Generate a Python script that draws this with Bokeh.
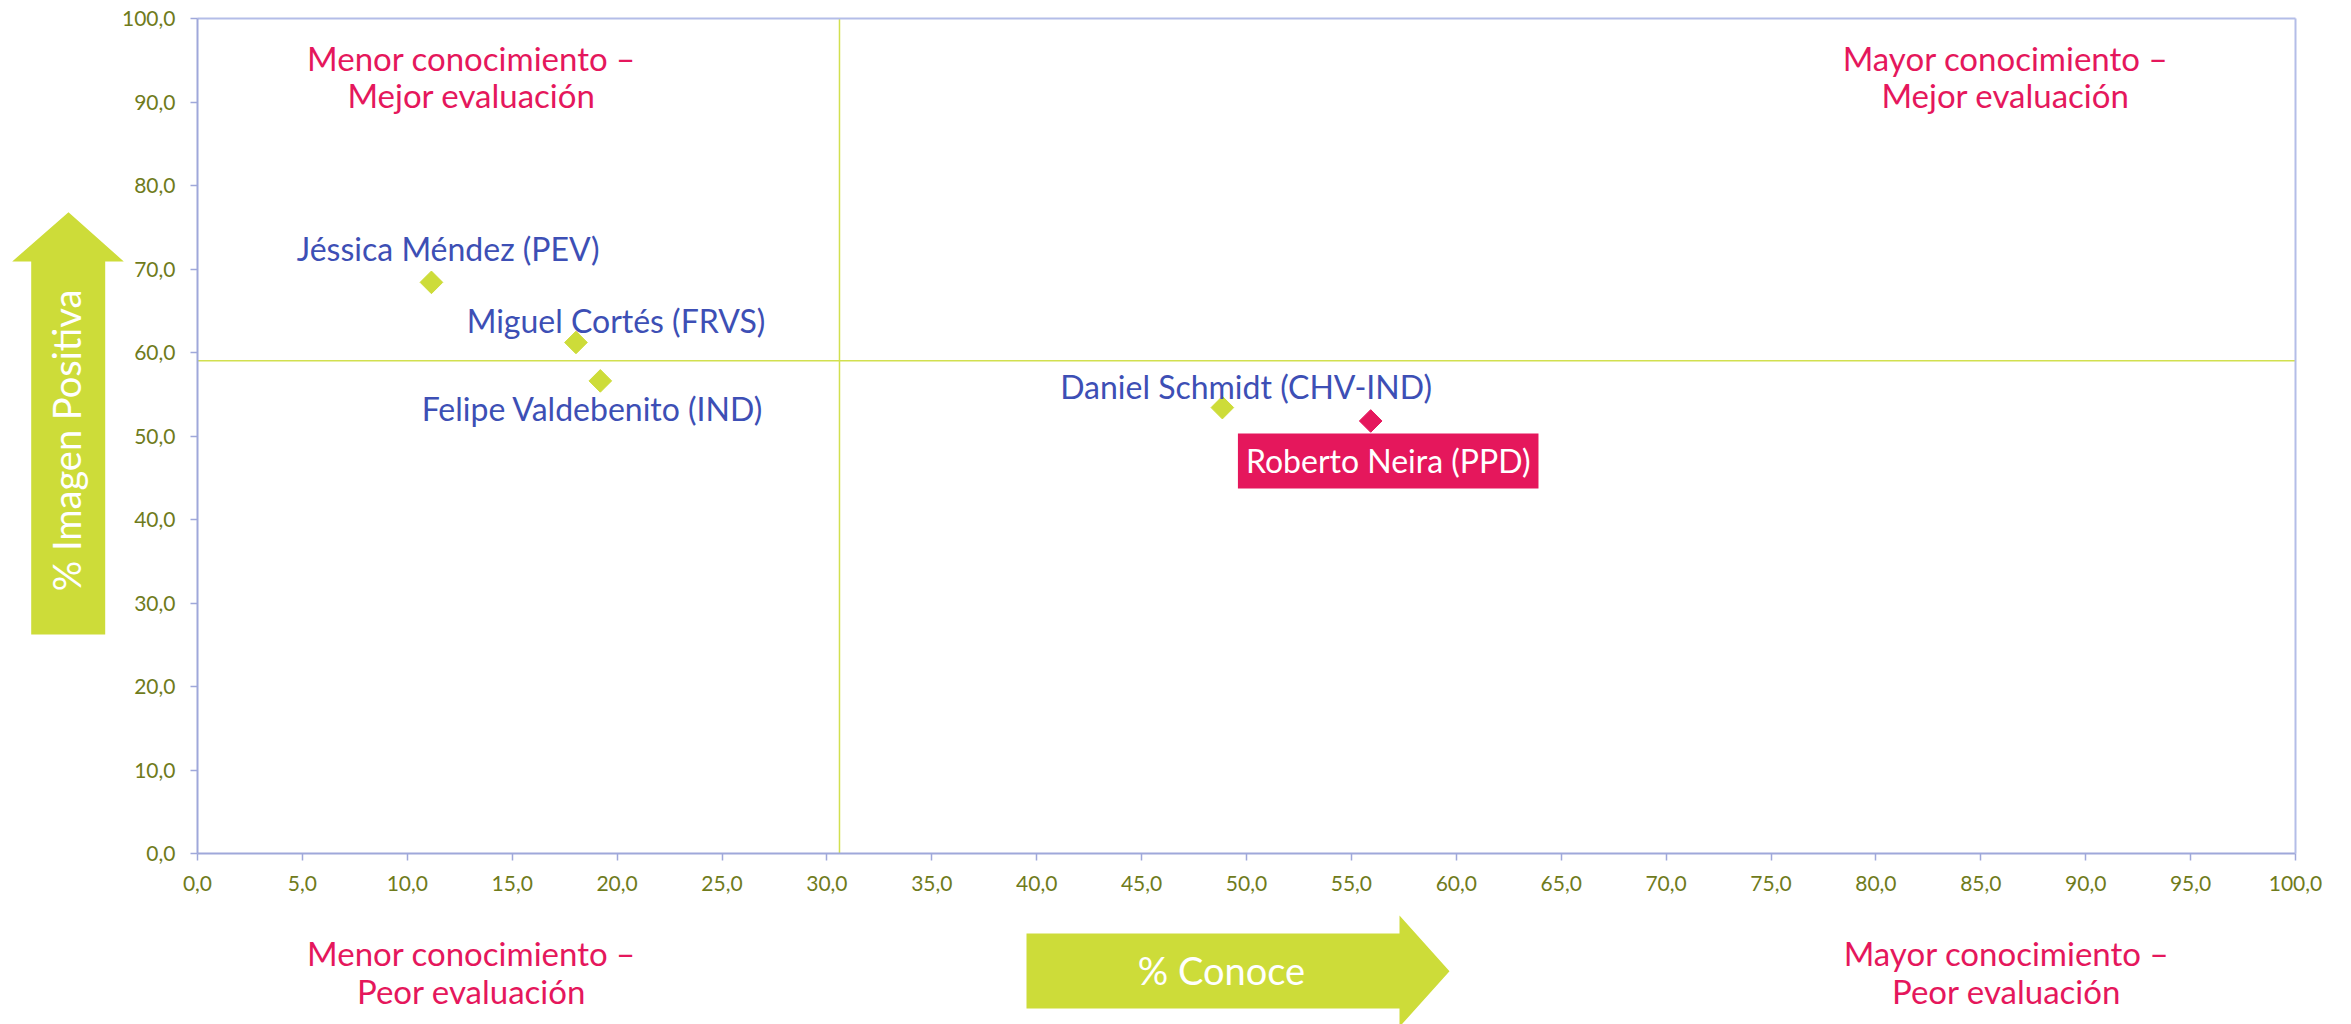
import numpy as np
from bokeh.plotting import figure
from bokeh.models import Range1d, FixedTicker, Label, PolyAnnotation, ColumnDataSource, LinearAxis
from bokeh.core.properties import value
from bokeh.embed import file_html
from bokeh.resources import INLINE

# ---------------- data ----------------
candidates = ["Jéssica Méndez (PEV)", "Miguel Cortés (FRVS)", "Felipe Valdebenito (IND)",
              "Daniel Schmidt (CHV-IND)", "Roberto Neira (PPD)"]
pct_conoce = [11.15, 18.04, 19.20, 48.85, 55.92]
pct_imagen_positiva = [68.4, 61.2, 56.6, 53.4, 51.8]
highlighted = "Roberto Neira (PPD)"

ref_conoce = 30.6
ref_imagen = 59.0

x_ticks = [0, 5, 10, 15, 20, 25, 30, 35, 40, 45, 50, 55, 60, 65, 70, 75, 80, 85, 90, 95, 100]
x_tick_labels = ["0,0", "5,0", "10,0", "15,0", "20,0", "25,0", "30,0", "35,0", "40,0", "45,0", "50,0",
                 "55,0", "60,0", "65,0", "70,0", "75,0", "80,0", "85,0", "90,0", "95,0", "100,0"]
y_ticks = [0, 10, 20, 30, 40, 50, 60, 70, 80, 90, 100]
y_tick_labels = ["0,0", "10,0", "20,0", "30,0", "40,0", "50,0", "60,0", "70,0", "80,0", "90,0", "100,0"]
axis_min, axis_max = 0, 100

x_title = "% Conoce"
y_title = "% Imagen Positiva"
quadrant_top_left = ["Menor conocimiento –", "Mejor evaluación"]
quadrant_top_right = ["Mayor conocimiento –", "Mejor evaluación"]
quadrant_bottom_left = ["Menor conocimiento –", "Peor evaluación"]
quadrant_bottom_right = ["Mayor conocimiento –", "Peor evaluación"]

# ---------------- layout / style ----------------
W, H = 2351, 1024
LIME = "#cddc39"
LIME_LINE = "#d2e04f"
PINK = "#e5175c"
BLUE = "#3d4fb5"
OLIVE = "#6f7b1c"
AXIS = "#9fa8da"
BORDER = "#b4bde8"
FONT = "Lato"

# canvas-pixel positions of the plotting box corners (axis 0 and 100)
FX0, FX1 = 197.0, 2295.0
FY0, FY1 = 853.0, 18.0


def dx(px):
    return axis_min + (px - FX0) / (FX1 - FX0) * (axis_max - axis_min)


def dy(py):
    return axis_min + (FY0 - py) / (FY0 - FY1) * (axis_max - axis_min)


p = figure(width=W, height=H, x_range=Range1d(dx(0), dx(W)), y_range=Range1d(dy(H), dy(0)),
           output_backend="svg", toolbar_location=None, x_axis_location=None, y_axis_location=None,
           min_border=0)
p.outline_line_color = None
p.background_fill_color = "white"
p.border_fill_color = "white"
p.xgrid.visible = False
p.ygrid.visible = False


def style_axis(ax, color, labels=True):
    ax.axis_line_color = color
    ax.axis_line_width = 2
    ax.major_tick_line_color = color
    ax.major_tick_line_width = 1.5
    ax.major_tick_in = 0
    ax.major_tick_out = 7 if labels else 0
    ax.minor_tick_line_color = None
    ax.major_label_text_font = FONT
    ax.major_label_text_font_size = "21px" if labels else "0px"
    ax.major_label_text_color = OLIVE


xaxis = LinearAxis(fixed_location=axis_min, bounds=(axis_min, axis_max), ticker=FixedTicker(ticks=x_ticks),
                   major_label_overrides={float(t): l for t, l in zip(x_ticks, x_tick_labels)})
yaxis = LinearAxis(fixed_location=axis_min, bounds=(axis_min, axis_max), ticker=FixedTicker(ticks=y_ticks),
                   major_label_overrides={float(t): l for t, l in zip(y_ticks, y_tick_labels)})
top_border = LinearAxis(fixed_location=axis_max, bounds=(axis_min, axis_max), ticker=FixedTicker(ticks=[]))
right_border = LinearAxis(fixed_location=axis_max, bounds=(axis_min, axis_max), ticker=FixedTicker(ticks=[]))
style_axis(xaxis, AXIS)
style_axis(yaxis, AXIS)
style_axis(top_border, BORDER, labels=False)
style_axis(right_border, BORDER, labels=False)
xaxis.major_label_standoff = 15
yaxis.major_label_standoff = 15
p.add_layout(top_border, "above")
p.add_layout(right_border, "right")

# reference lines (quadrant dividers)
p.segment(x0=[ref_conoce, axis_min], y0=[axis_min, ref_imagen], x1=[ref_conoce, axis_max], y1=[axis_max, ref_imagen],
          line_color=LIME_LINE, line_width=1.5)

p.add_layout(xaxis, "below")
p.add_layout(yaxis, "left")

# arrows (decoration, canvas pixels)
v_arrow_px = [(30.7, 634), (104.7, 634), (104.7, 261), (123.3, 261), (68.0, 211.7), (11.7, 261), (30.7, 261)]
h_arrow_px = [(1026, 933), (1399, 933), (1399, 915), (1449, 970.7), (1399, 1026.4), (1399, 1008), (1026, 1008)]
for pts in (v_arrow_px, h_arrow_px):
    p.add_layout(PolyAnnotation(xs=[dx(a) for a, b in pts], ys=[dy(b) for a, b in pts],
                                fill_color=LIME, fill_alpha=1.0, line_color=None))

p.add_layout(Label(x=dx(65), y=dy(440), text=y_title, angle=np.pi / 2, text_align="center",
                   text_baseline="alphabetic", text_font=FONT, text_font_size="38px", text_color="white"))
p.add_layout(Label(x=dx(1221), y=dy(969), text=x_title, text_align="center",
                   text_baseline="alphabetic", text_font=FONT, text_font_size="38px", text_color="white"))

# quadrant labels
for lines, cx, baselines in ((quadrant_top_left, 471, (57.3, 94.7)),
                             (quadrant_top_right, 2005, (57.3, 94.7)),
                             (quadrant_bottom_left, 471, (952.5, 990.5)),
                             (quadrant_bottom_right, 2006, (952.5, 990.5))):
    for txt, by in zip(lines, baselines):
        p.add_layout(Label(x=dx(cx), y=dy(by), text=txt, text_align="center", text_baseline="alphabetic",
                           text_font=FONT, text_font_size="33px", text_color=PINK))

# points
colors = [PINK if c == highlighted else LIME for c in candidates]
src = ColumnDataSource(dict(x=pct_conoce, y=pct_imagen_positiva, name=candidates, color=colors))
p.scatter("x", "y", source=src, marker="square", angle=np.pi / 4, size=16,
          fill_color="color", line_color="color")

# label offsets in screen pixels (layout)
label_offsets = {
    "Jéssica Méndez (PEV)": (16.7, -34.3),
    "Miguel Cortés (FRVS)": (40.0, -22.3),
    "Felipe Valdebenito (IND)": (-7.8, 27.2),
    "Daniel Schmidt (CHV-IND)": (23.7, -21.0),
    "Roberto Neira (PPD)": (17.5, 40.0),
}
norm = [i for i, c in enumerate(candidates) if c != highlighted]
hi = [i for i, c in enumerate(candidates) if c == highlighted]


def sub(idx):
    return ColumnDataSource(dict(
        x=[pct_conoce[i] for i in idx], y=[pct_imagen_positiva[i] for i in idx],
        name=[candidates[i] for i in idx],
        xo=[label_offsets[candidates[i]][0] for i in idx],
        yo=[label_offsets[candidates[i]][1] for i in idx]))


p.text("x", "y", text="name", source=sub(norm), x_offset="xo", y_offset="yo",
       text_align="center", text_baseline="alphabetic", text_font=value(FONT),
       text_font_size="32px", text_color=BLUE)
p.text("x", "y", text="name", source=sub(hi), x_offset="xo", y_offset="yo",
       text_align="center", text_baseline="alphabetic", text_font=value(FONT),
       text_font_size="32px", text_color="white", background_fill_color=PINK, padding=8)

open("out.html", "w").write(file_html(p, INLINE))
